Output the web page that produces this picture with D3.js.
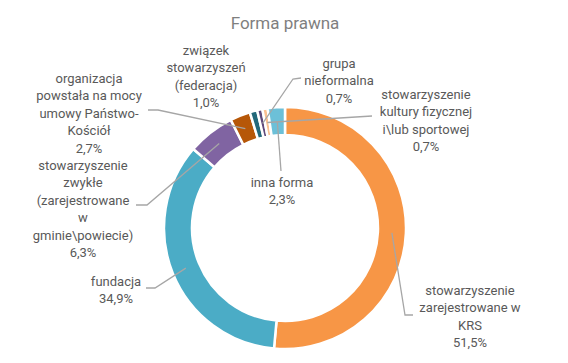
<!DOCTYPE html>
<meta charset="utf-8">
<style>
    body {
        margin: 0;
        background: #fff;
        font-family: Roboto, "Noto Sans", sans-serif;
    }

    .slice {
        stroke: #fff;
        stroke-width: 2.5px;
    }

    .leader {
        fill: none;
        stroke: #a6a6a6;
        stroke-width: 1.3px;
    }

    .label {
        fill: #595959;
        font-size: 13px;
    }

    .title {
        fill: #7f7f7f;
        font-size: 17px;
    }
</style>

<body>
    <script src="https://d3js.org/d3.v7.min.js"></script>
    <script>
        // Categories (line breaks as in the chart) and shares in %
        var categories = [
            "stowarzyszenie\nzarejestrowane w\nKRS",
            "fundacja",
            "stowarzyszenie\nzwykłe\n(zarejestrowane\nw\ngminie\\powiecie)",
            "organizacja\npowstała na mocy\numowy Państwo-\nKościół",
            "związek\nstowarzyszeń\n(federacja)",
            "grupa\nnieformalna",
            "stowarzyszenie\nkultury fizycznej\ni\\lub sportowej",
            "inna forma"
        ];
        var values = [51.5, 34.9, 6.3, 2.7, 1.0, 0.7, 0.7, 2.3];
        var colors = ["#f79646", "#4bacc6", "#8064a2", "#b65708", "#23687a", "#5f497a", "#fac090", "#6cc0d8"];

        var width = 568,
            height = 363,
            cx = 285,
            cy = 228,
            outer = 121,
            inner = 93,
            lineH = 17.5;

        // label placement: centre x, first line y, bend points for the leader (null = no leader)
        var labelPos = [
            { x: 470, y: 290, leader: [[405, 315], [413, 315]] },
            { x: 116, y: 281, leader: [[155, 288], [146, 288]] },
            { x: 83, y: 165, leader: [[147, 205], [136, 205]] },
            { x: 89, y: 78, leader: [[158, 110], [148, 110]] },
            { x: 206, y: 50, leader: null },
            { x: 339, y: 63, leader: [[293, 79], [301, 78]] },
            { x: 426, y: 94, leader: [[372, 116]] },
            { x: 282, y: 182, leader: [[281, 171]] }
        ];

        var fmt = d3.format(".1f");

        var svg = d3.select("body").append("svg")
            .attr("width", width)
            .attr("height", height);

        svg.append("text")
            .attr("class", "title")
            .attr("x", 285)
            .attr("y", 29)
            .attr("text-anchor", "middle")
            .text("Forma prawna");

        var pie = d3.pie().sort(null).value(function (d) { return d; });
        var arcs = pie(values);

        var arc = d3.arc().innerRadius(inner).outerRadius(outer);
        var midArc = d3.arc().innerRadius(107).outerRadius(107);

        var g = svg.append("g")
            .attr("transform", "translate(" + cx + "," + cy + ")");

        g.selectAll("path.slice")
            .data(arcs)
            .enter().append("path")
            .attr("class", "slice")
            .attr("d", arc)
            .attr("fill", function (d, i) { return colors[i]; });

        // leader lines start in the middle of the ring
        svg.selectAll("polyline.leader")
            .data(arcs.filter(function (d, i) { return labelPos[i].leader; }))
            .enter().append("polyline")
            .attr("class", "leader")
            .attr("points", function (d) {
                var c = midArc.centroid(d);
                var pts = [[cx + c[0], cy + c[1]]].concat(labelPos[d.index].leader);
                return pts.map(function (p) { return p.join(","); }).join(" ");
            });

        var labels = svg.selectAll("text.label")
            .data(arcs)
            .enter().append("text")
            .attr("class", "label")
            .attr("text-anchor", "middle");

        labels.each(function (d, i) {
            var lines = categories[i].split("\n").concat([fmt(values[i]).replace(".", ",") + "%"]);
            var t = d3.select(this);
            lines.forEach(function (l, k) {
                t.append("tspan")
                    .attr("x", labelPos[i].x)
                    .attr("y", labelPos[i].y + k * lineH + 4.5)
                    .text(l);
            });
        });
    </script>
</body>
